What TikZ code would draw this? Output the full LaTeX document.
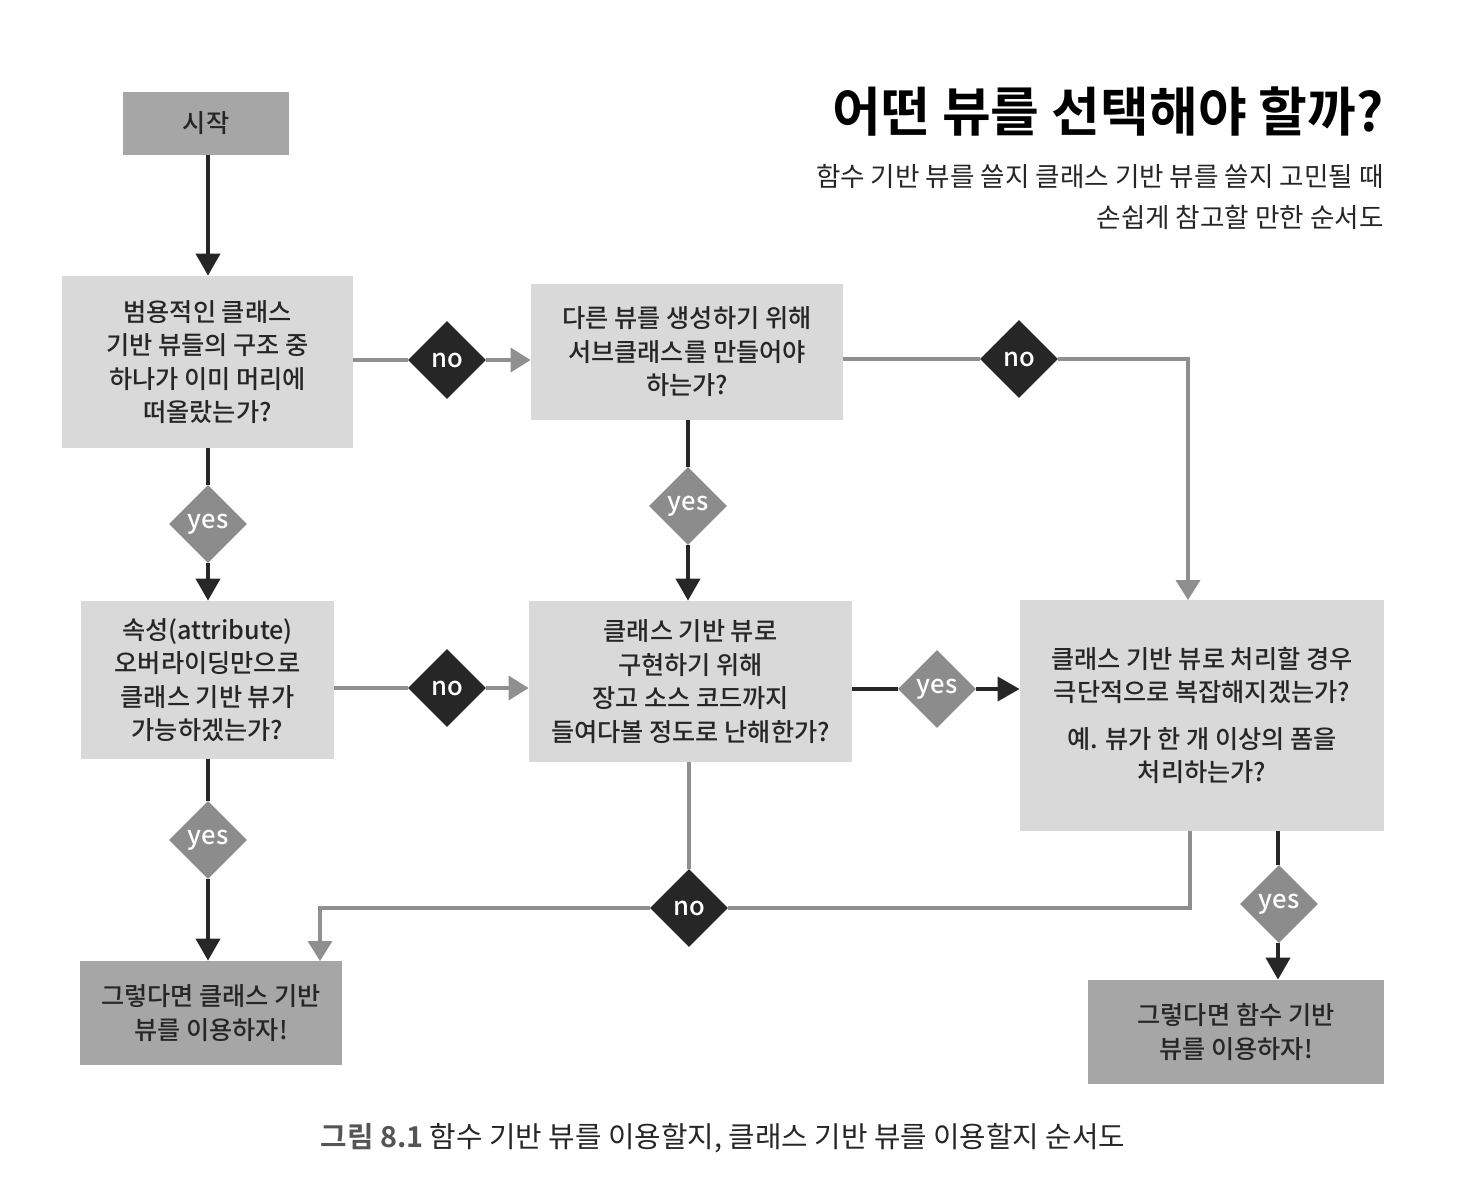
\documentclass[tikz,border=0pt]{standalone}
\usepackage{fontspec}
\setmainfont{Noto Sans CJK KR}
\newfontfamily\medfont{Noto Sans CJK KR Medium}
\newfontfamily\boldfont{Noto Sans CJK KR Bold}
\usetikzlibrary{shapes.geometric,arrows.meta}
\definecolor{boxlight}{HTML}{D9D9D9}
\definecolor{boxdark}{HTML}{A6A6A6}
\definecolor{inkdark}{HTML}{262626}
\definecolor{inkgrey}{HTML}{8F8F8F}
\definecolor{yesgrey}{HTML}{8C8C8C}
\definecolor{capgrey}{HTML}{555555}
\tikzset{
  qbox/.style={rectangle, fill=boxlight, inner sep=0pt, align=center,
    font=\medfont\fontsize{12.6}{16.75}\selectfont, text=inkdark},
  endbox/.style={qbox, fill=boxdark},
  nodia/.style={diamond, fill=inkdark, minimum width=39pt, minimum height=39pt,
    inner sep=0pt, text=white, font=\medfont\fontsize{12.8}{14}\selectfont},
  yesdia/.style={nodia, fill=yesgrey},
  darkline/.style={draw=inkdark, line width=2pt},
  greyline/.style={draw=inkgrey, line width=1.8pt},
  darkarr/.style={darkline, -{Triangle[length=11pt,width=12pt]}},
  greyarr/.style={greyline, -{Triangle[length=10pt,width=12pt]}}
}
\begin{document}
\begin{tikzpicture}[x=0.5pt,y=-0.5pt]
\useasboundingbox[fill=white] (0,0) rectangle (1462,1191);

% title
\node[anchor=east, inner sep=0pt, font=\boldfont\fontsize{26.5}{30}\selectfont] (title) at (1384,112)
  {어떤 뷰를 선택해야 할까?};
\node[anchor=east, inner sep=0pt, align=right, font=\fontsize{13.3}{20.5}\selectfont, text=inkdark] (subtitle) at (1384,197)
  {함수 기반 뷰를 쓸지 클래스 기반 뷰를 쓸지 고민될 때\\손쉽게 참고할 만한 순서도};

% boxes
\node[endbox, minimum width=83pt, minimum height=31.5pt] (start) at (206,123.5) {시작};
\node[qbox, minimum width=145.5pt, minimum height=86pt] (q1) at (207.5,362)
  {범용적인 클래스\\기반 뷰들의 구조 중\\하나가 이미 머리에\\떠올랐는가?};
\node[qbox, minimum width=156pt, minimum height=68pt] (q2) at (687,352)
  {다른 뷰를 생성하기 위해\\서브클래스를 만들어야\\하는가?};
\node[qbox, minimum width=126.5pt, minimum height=79pt] (q3) at (207.5,680)
  {속성(attribute)\\오버라이딩만으로\\클래스 기반 뷰가\\가능하겠는가?};
\node[qbox, minimum width=161.5pt, minimum height=80.5pt] (q4) at (690.5,681.5)
  {클래스 기반 뷰로\\구현하기 위해\\장고 소스 코드까지\\들여다볼 정도로 난해한가?};
\node[qbox, minimum width=182pt, minimum height=115.5pt] (q5) at (1202,715.5)
  {클래스 기반 뷰로 처리할 경우\\극단적으로 복잡해지겠는가?\\[6.5pt]예. 뷰가 한 개 이상의 폼을\\처리하는가?};
\node[endbox, minimum width=131pt, minimum height=52pt] (endA) at (211,1013)
  {그렇다면 클래스 기반\\뷰를 이용하자!};
\node[endbox, minimum width=148pt, minimum height=52pt] (endB) at (1236,1032)
  {그렇다면 함수 기반\\뷰를 이용하자!};

% decision diamonds
\node[nodia] (no1) at (447,360) {no};
\node[nodia] (no2) at (1019,359) {no};
\node[yesdia] (yes1) at (208,524) {yes};
\node[yesdia] (yes2) at (688,506) {yes};
\node[nodia] (no3) at (447,688) {no};
\node[yesdia] (yes3) at (937,689) {yes};
\node[yesdia] (yes4) at (208,840) {yes};
\node[nodia] (no4) at (689,908) {no};
\node[yesdia] (yes5) at (1279,904) {yes};

% helper coordinates
\coordinate (q5in) at (1188,600);
\coordinate (q5outA) at (1190,831);
\coordinate (q5outB) at (1278,831);
\coordinate (endAin) at (320,961);

% connectors
\draw[darkarr] (start.south -| 208,0) -- (q1.north -| 208,0);
\draw[greyline] (q1.east |- no1) -- (no1.west);
\draw[greyarr] (no1.east) -- (q2.west |- no1);
\draw[greyline] (q2.east |- no2) -- (no2.west);
\draw[greyarr] (no2.east) -| (q5in);
\draw[darkline] (q1.south -| yes1) -- (yes1.north);
\draw[darkarr] (yes1.south) -- (q3.north -| yes1);
\draw[darkline] (q2.south -| yes2) -- (yes2.north);
\draw[darkarr] (yes2.south) -- (q4.north -| yes2);
\draw[greyline] (q3.east |- no3) -- (no3.west);
\draw[greyarr] (no3.east) -- (q4.west |- no3);
\draw[darkline] (q4.east |- yes3) -- (yes3.west);
\draw[darkarr] (yes3.east) -- (q5.west |- yes3);
\draw[darkline] (q3.south -| yes4) -- (yes4.north);
\draw[darkarr] (yes4.south) -- (endA.north -| yes4);
\draw[greyline] (q4.south -| no4) -- (no4.north);
\draw[greyline] (q5outA) |- (no4.east);
\draw[greyarr] (no4.west) -| (endAin);
\draw[darkline] (q5outB) -- (yes5.north -| q5outB);
\draw[darkarr] (yes5.south -| q5outB) -- (endB.north -| q5outB);

% caption
\node[inner sep=0pt, font=\fontsize{14.4}{16}\selectfont, text=inkdark] (caption) at (723,1138)
  {{\boldfont\color{capgrey}그림 8.1} 함수 기반 뷰를 이용할지, 클래스 기반 뷰를 이용할지 순서도};
\end{tikzpicture}
\end{document}
